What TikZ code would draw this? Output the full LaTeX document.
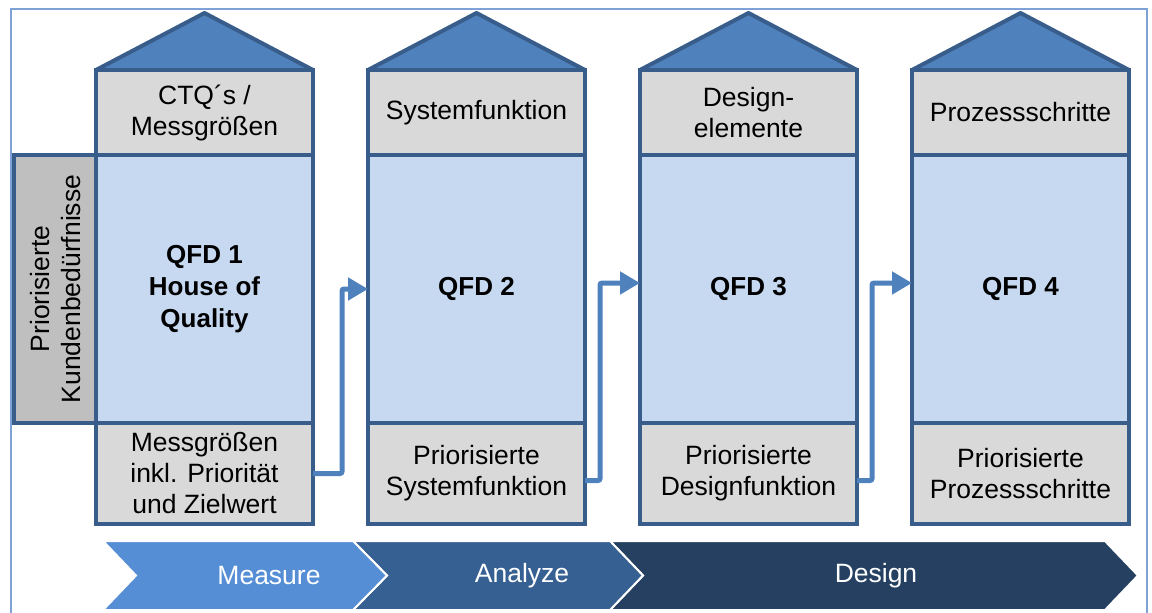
\documentclass[tikz,border=0pt]{standalone}
\usepackage{fontspec}
\setmainfont{Liberation Sans}
\usetikzlibrary{arrows.meta,calc}
\definecolor{roofc}{HTML}{4F81BD}
\definecolor{edgec}{HTML}{385D8A}
\definecolor{grayc}{HTML}{D9D9D9}
\definecolor{bodyc}{HTML}{C6D9F1}
\definecolor{sidec}{HTML}{BFBFBF}
\definecolor{framec}{HTML}{7EA1D6}
\definecolor{measc}{HTML}{558ED5}
\definecolor{anac}{HTML}{376092}
\definecolor{desc}{HTML}{254061}
\tikzset{
  txt/.style={font=\fontsize{26.5}{31}\selectfont,align=center},
  box/.style={txt,draw=edgec,line width=4pt,minimum width=217pt,inner sep=0pt,outer sep=0pt},
  topbox/.style={box,fill=grayc,minimum height=85pt},
  bodybox/.style={box,fill=bodyc,minimum height=268pt,font=\fontsize{26}{32}\selectfont\bfseries},
  botbox/.style={box,fill=grayc,minimum height=101pt},
  roof/.style={fill=roofc,draw=edgec,line width=4pt,line join=round},
  sidebox/.style={draw=edgec,fill=sidec,line width=4pt,minimum width=83pt,minimum height=268pt,inner sep=0pt,outer sep=0pt},
  flow/.style={draw=roofc,line width=5pt,rounded corners=2pt,-{Triangle[length=20pt,width=22pt]}},
  chev/.style={draw=white,line width=2pt},
  chevtxt/.style={txt,text=white}
}
\begin{document}
\begin{tikzpicture}[x=1pt,y=-1pt]
\useasboundingbox (0,0) rectangle (1152,613);
\draw[framec,line width=1.5pt] (11,9) rectangle (1147,630);

% side bar
\node[sidebox] (side) at (55.5,289) {};
\node[txt,rotate=90] (sidetext) at (side.center) {Priorisierte\\Kundenbedürfnisse};

% house 1
\draw[roof] (96,70) -- (204.5,13) -- (313,70) -- cycle;
\node[topbox] (t1) at (204.5,112.5) {CTQ´s /\\Messgrößen};
\node[bodybox] (b1) at (204.5,289) {QFD 1\\House of\\Quality};
\node[botbox] (p1) at (204.5,473.5) {Messgrößen\\inkl. Priorität\\und Zielwert};

% house 2
\draw[roof] (368,70) -- (476.5,13) -- (585,70) -- cycle;
\node[topbox] (t2) at (476.5,112.5) {Systemfunktion};
\node[bodybox] (b2) at (476.5,289) {QFD 2};
\node[botbox] (p2) at (476.5,473.5) {Priorisierte\\Systemfunktion};

% house 3
\draw[roof] (640,70) -- (748.5,13) -- (857,70) -- cycle;
\node[topbox] (t3) at (748.5,112.5) {Design-\\elemente};
\node[bodybox] (b3) at (748.5,289) {QFD 3};
\node[botbox] (p3) at (748.5,473.5) {Priorisierte\\Designfunktion};

% house 4
\draw[roof] (912,70) -- (1020.5,13) -- (1129,70) -- cycle;
\node[topbox] (t4) at (1020.5,112.5) {Prozessschritte};
\node[bodybox] (b4) at (1020.5,289) {QFD 4};
\node[botbox] (p4) at (1020.5,473.5) {Priorisierte\\Prozessschritte};

% flow arrows
\draw[flow] (p1.east) -- ++(29,0) |- (b2.west);
\draw[flow] ($(p2.east)+(0,7)$) -- ++(15,0) |- ($(b3.west)+(0,-6)$);
\draw[flow] ($(p3.east)+(0,7)$) -- ++(15,0) |- ($(b4.west)+(0,-6)$);

% phase chevrons
\draw[chev,fill=desc] (610,541) -- (1105,541) -- (1138,575.5) -- (1105,610) -- (610,610) -- (643,575.5) -- cycle;
\draw[chev,fill=anac] (353,541) -- (610,541) -- (643,575.5) -- (610,610) -- (353,610) -- (387,575.5) -- cycle;
\draw[chev,fill=measc] (103,541) -- (353,541) -- (387,575.5) -- (353,610) -- (103,610) -- (136,575.5) -- cycle;
\node[chevtxt] (measure) at (269,576) {Measure};
\node[chevtxt] (analyze) at (522,576) {Analyze};
\node[chevtxt] (design) at (876,576) {Design};
\end{tikzpicture}
\end{document}
